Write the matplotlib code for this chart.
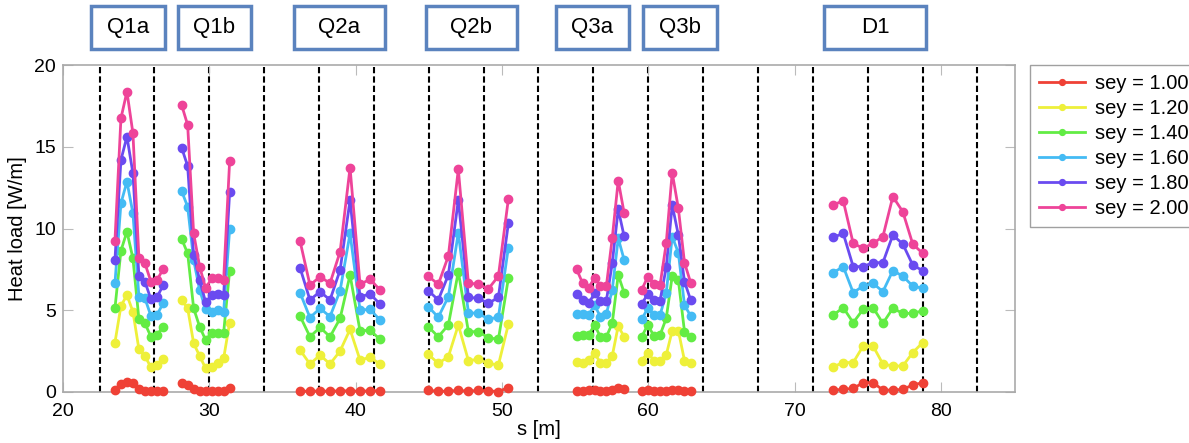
import numpy as np
import matplotlib
matplotlib.use('Agg')
import matplotlib.pyplot as plt
from matplotlib.patches import Rectangle
from matplotlib.transforms import blended_transform_factory

plt.rcParams['font.family'] = ['Liberation Sans', 'DejaVu Sans']

# s positions [m] of each magnet group
s_q1a = [23.55, 23.96, 24.37, 24.78, 25.19, 25.60, 26.01, 26.42, 26.84]
s_q1b = [28.11, 28.52, 28.93, 29.34, 29.75, 30.16, 30.57, 30.98, 31.39]
s_q2a = [36.20, 36.88, 37.57, 38.25, 38.94, 39.62, 40.30, 40.99, 41.67]
s_q2b = [44.97, 45.65, 46.34, 47.02, 47.71, 48.39, 49.07, 49.76, 50.44]
s_q3a = [55.11, 55.52, 55.92, 56.33, 56.73, 57.14, 57.54, 57.95, 58.35]
s_q3b = [59.55, 59.97, 60.39, 60.81, 61.23, 61.64, 62.06, 62.48, 62.90]
s_d1 = [72.65, 73.33, 74.01, 74.69, 75.37, 76.04, 76.72, 77.40, 78.08, 78.76]

# heat load [W/m] per sey, group by group (Q1a, Q1b, Q2a, Q2b, Q3a, Q3b, D1)
sey_100 = [
    [0.15, 0.50, 0.60, 0.55, 0.20, 0.05, 0.08, 0.05, 0.05],
    [0.55, 0.45, 0.20, 0.05, 0.08, 0.05, 0.05, 0.08, 0.25],
    [0.05, 0.05, 0.06, 0.05, 0.07, 0.07, 0.05, 0.07, 0.08],
    [0.10, 0.05, 0.05, 0.10, 0.05, 0.10, 0.07, 0.03, 0.27],
    [0.08, 0.08, 0.10, 0.10, 0.08, 0.05, 0.12, 0.25, 0.20],
    [0.08, 0.10, 0.05, 0.05, 0.08, 0.12, 0.15, 0.08, 0.05],
    [0.12, 0.16, 0.22, 0.57, 0.57, 0.12, 0.12, 0.16, 0.43, 0.57],
]
sey_120 = [
    [3.02, 5.26, 5.93, 4.91, 2.61, 2.20, 1.51, 1.65, 2.00],
    [5.63, 5.12, 2.98, 2.20, 1.45, 1.55, 1.80, 2.06, 4.24],
    [2.57, 1.71, 2.26, 1.71, 2.51, 3.83, 1.96, 2.12, 1.71],
    [2.30, 1.75, 2.16, 4.10, 1.92, 2.00, 1.75, 1.65, 4.14],
    [1.86, 1.80, 1.96, 2.37, 1.80, 1.80, 2.20, 4.04, 3.38],
    [1.92, 2.41, 1.92, 1.92, 2.26, 3.75, 3.75, 1.92, 1.80],
    [1.55, 1.80, 1.80, 2.81, 2.81, 1.71, 1.59, 1.59, 2.41, 3.02],
]
sey_140 = [
    [5.12, 8.64, 9.81, 8.17, 4.44, 4.20, 3.38, 3.49, 3.99],
    [9.36, 8.48, 5.12, 3.99, 3.18, 3.63, 3.63, 3.63, 7.42],
    [4.65, 3.38, 3.95, 3.38, 4.50, 7.16, 3.75, 3.77, 3.22],
    [3.99, 3.38, 4.10, 7.36, 3.69, 3.69, 3.32, 3.22, 6.95],
    [3.43, 3.49, 3.49, 4.10, 3.38, 3.38, 4.20, 7.16, 6.08],
    [3.38, 4.10, 3.43, 3.49, 4.50, 7.09, 6.85, 3.69, 3.38],
    [4.71, 5.16, 4.24, 5.06, 5.16, 4.20, 5.12, 4.81, 4.81, 4.97],
]
sey_160 = [
    [6.65, 11.54, 12.87, 10.93, 5.83, 5.73, 4.65, 4.71, 5.42],
    [12.29, 11.33, 8.07, 6.24, 5.06, 4.91, 5.00, 4.91, 9.95],
    [6.08, 4.55, 5.12, 4.61, 6.20, 9.70, 5.02, 5.05, 4.40],
    [5.22, 4.57, 5.83, 9.74, 4.85, 4.81, 4.46, 4.57, 8.83],
    [4.77, 4.75, 4.71, 5.32, 4.61, 4.77, 6.24, 9.40, 8.10],
    [4.44, 5.12, 4.71, 4.71, 6.03, 9.50, 8.52, 5.32, 4.65],
    [7.30, 7.67, 6.08, 6.48, 6.65, 6.14, 7.42, 7.09, 6.48, 6.34],
]
sey_180 = [
    [8.07, 14.19, 15.62, 13.37, 7.09, 6.75, 5.67, 5.79, 6.52],
    [14.94, 13.82, 8.38, 6.85, 5.48, 5.93, 5.97, 5.93, 12.21],
    [7.60, 5.63, 6.14, 5.63, 7.46, 11.74, 5.83, 5.99, 5.38],
    [6.20, 5.63, 7.16, 11.74, 5.79, 5.73, 5.42, 5.79, 10.31],
    [5.99, 5.63, 5.42, 6.03, 5.59, 5.59, 7.87, 11.17, 9.54],
    [5.38, 5.99, 5.63, 5.59, 7.62, 11.44, 9.60, 6.75, 5.63],
    [9.46, 9.70, 7.67, 7.67, 7.91, 7.91, 9.60, 9.05, 7.77, 7.42],
]
sey_200 = [
    [9.24, 16.74, 18.37, 15.82, 8.17, 7.87, 6.75, 6.85, 7.50],
    [17.55, 16.33, 9.70, 7.67, 6.34, 6.95, 7.00, 6.85, 14.13],
    [9.24, 6.54, 7.05, 6.65, 8.58, 13.72, 6.59, 6.89, 6.24],
    [7.09, 6.58, 8.32, 13.62, 6.65, 6.60, 6.30, 7.09, 11.80],
    [7.50, 6.65, 6.34, 7.00, 6.50, 6.48, 9.40, 12.93, 10.97],
    [6.24, 7.05, 6.60, 6.54, 9.09, 13.42, 11.23, 7.91, 6.69],
    [11.44, 11.70, 9.09, 8.79, 9.09, 9.50, 11.95, 11.03, 9.05, 8.48],
]

sey_labels = ['sey = 1.00', 'sey = 1.20', 'sey = 1.40',
              'sey = 1.60', 'sey = 1.80', 'sey = 2.00']
colors = ['#ef4136', '#eef03a', '#62ec44', '#44bbf4', '#6a4bf0', '#ee4499']

# element boundaries (dashed lines)
boundaries = [22.5, 26.25, 30.0, 33.75, 37.5, 41.25, 45.0, 48.75, 52.5,
              56.25, 60.0, 63.75, 67.5, 71.25, 75.0, 78.75, 82.5]

# element name boxes: label, s start, s end
box_labels = ['Q1a', 'Q1b', 'Q2a', 'Q2b', 'Q3a', 'Q3b', 'D1']
box_start = [21.91, 27.86, 35.79, 44.81, 53.70, 59.64, 72.02]
box_end = [26.97, 32.85, 42.01, 51.03, 58.69, 64.70, 78.99]

groups = [s_q1a, s_q1b, s_q2a, s_q2b, s_q3a, s_q3b, s_d1]


# join the groups into one line with gaps
def join(parts):
	out = []
	for p in parts:
		out.extend(p)
		out.append(np.nan)
	return np.array(out[:-1])


s_all = join(groups)

fig = plt.figure(figsize=(11.89, 4.43), dpi=100)
ax = fig.add_axes([63 / 1189, 1 - 392 / 443, 952 / 1189, 327 / 443])

for b in boundaries:
	ax.axvline(b, color='black', linestyle=(0, (3, 1.5)), linewidth=1.5, zorder=1)

for vals, lab, c in zip([sey_100, sey_120, sey_140, sey_160, sey_180, sey_200],
		sey_labels, colors):
	ax.plot(s_all, join(vals), color=c, marker='o', markersize=6,
		linewidth=2, label=lab, zorder=3, clip_on=False)

ax.set_xlim(20, 85.07)
ax.set_ylim(0, 20)
ax.set_xticks([20, 30, 40, 50, 60, 70, 80])
ax.set_yticks([0, 5, 10, 15, 20])
ax.tick_params(direction='in', length=7, color='#bbbbbb', labelsize=14,
	top=True, right=True)
ax.tick_params(axis='x', pad=8)
ax.tick_params(axis='y', pad=5)
for sp in ax.spines.values():
	sp.set_color('#aaaaaa')
	sp.set_linewidth(1.2)
ax.set_xlabel('s [m]', fontsize=14.5, labelpad=0)
ax.set_ylabel('Heat load [W/m]', fontsize=14.5, labelpad=5)

leg = ax.legend(loc='upper left', bbox_to_anchor=(1030 / 1189, 1 - 65 / 443),
	bbox_transform=fig.transFigure, borderaxespad=0, fontsize=14.5,
	fancybox=False, edgecolor='#888888', markerscale=0.7, handlelength=2.3,
	labelspacing=0.3, handletextpad=0.5, borderpad=0.45)
leg.get_frame().set_linewidth(1.0)

trans = blended_transform_factory(ax.transData, fig.transFigure)
for lab, x0, x1 in zip(box_labels, box_start, box_end):
	ax.add_patch(Rectangle((x0, 1 - 49 / 443), x1 - x0, 43 / 443, transform=trans,
		facecolor='white', edgecolor='#5b83be', linewidth=2.5, clip_on=False))
	ax.text((x0 + x1) / 2, 1 - 27.5 / 443, lab, transform=trans, ha='center',
		va='center', fontsize=16)

fig.savefig('out.png', dpi=100)
